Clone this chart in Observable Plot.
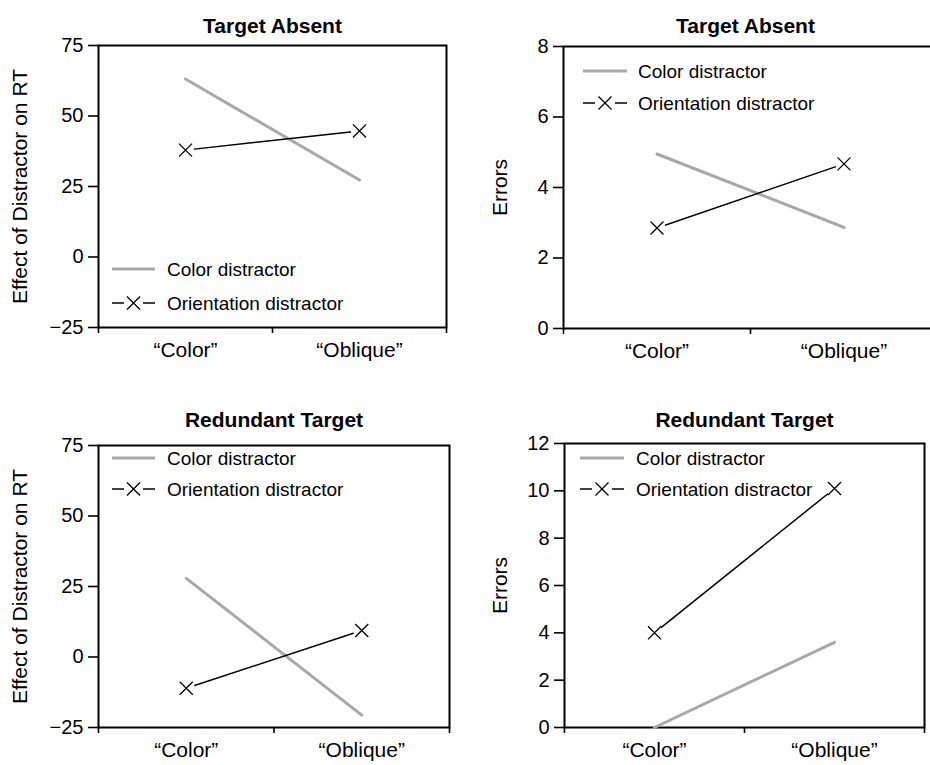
<!DOCTYPE html>
<html><head><meta charset="utf-8">
<script src="https://cdn.jsdelivr.net/npm/d3@7"></script>
<script src="https://cdn.jsdelivr.net/npm/@observablehq/plot@0.6"></script>
<style>
html,body{margin:0;padding:0;background:#fff;overflow:hidden;}
#wrap{position:relative;width:930px;height:765px;overflow:hidden;background:#fff;}
#wrap svg{position:absolute;}
</style></head><body><div id="wrap"></div>
<script>
// ---- data ----
const categories = ["\u201CColor\u201D", "\u201COblique\u201D"];
const seriesNames = ["Color distractor", "Orientation distractor"];
const titles = ["Target Absent", "Target Absent", "Redundant Target", "Redundant Target"];
const yLabels = ["Effect of Distractor on RT", "Errors", "Effect of Distractor on RT", "Errors"];

const absentRTColor = [63.1, 27.3];
const absentRTOrient = [37.9, 44.7];
const absentErrColor = [4.95, 2.87];
const absentErrOrient = [2.85, 4.67];
const redundantRTColor = [27.9, -20.6];
const redundantRTOrient = [-11.1, 9.4];
const redundantErrColor = [0.0, 3.6];
const redundantErrOrient = [4.0, 10.1];

const rtTicks = [-25, 0, 25, 50, 75];
const absentErrTicks = [0, 2, 4, 6, 8];
const redundantErrTicks = [0, 2, 4, 6, 8, 10, 12];

const GRAY = "#a8a8a8";
const FONT = "'Liberation Sans', Arial, Helvetica, sans-serif";

function drawPanel(cfg) {
  const color = categories.map((c, i) => ({x: i + 0.5, y: cfg.color[i]}));
  const orient = categories.map((c, i) => ({x: i + 0.5, y: cfg.orient[i]}));
  const plot = Plot.plot({
    width: cfg.width, height: cfg.height,
    marginTop: cfg.m[0], marginRight: cfg.m[1], marginBottom: cfg.m[2], marginLeft: cfg.m[3],
    style: {fontFamily: FONT, fontSize: "20px", color: "black", background: "transparent", overflow: "visible"},
    x: {type: "linear", domain: [0, categories.length], label: null},
    y: {domain: [cfg.yTicks[0], cfg.yTicks[cfg.yTicks.length - 1]], label: null},
    marks: [
      Plot.axisX({ticks: d3.range(categories.length + 1), tickSize: 6, tickFormat: () => "", label: null, strokeWidth: 1.6}),
      Plot.axisX({ticks: categories.map((c, i) => i + 0.5), tickSize: 0, tickPadding: 15,
                  tickFormat: d => categories[Math.floor(d)], label: null, fontSize: 21}),
      Plot.axisY({ticks: cfg.yTicks, tickSize: 10, tickPadding: 5, label: null, fontSize: 20, strokeWidth: 1.6}),
      Plot.frame({strokeWidth: 2}),
      Plot.line(color, {x: "x", y: "y", stroke: GRAY, strokeWidth: 3}),
      Plot.line(orient, {x: "x", y: "y", stroke: "black", strokeWidth: 1.5}),
      Plot.dot(orient, {x: "x", y: "y", r: 8.5, fill: "white", stroke: null}),
      Plot.dot(orient, {x: "x", y: "y", r: 6, symbol: "times", stroke: "black", strokeWidth: 1.3}),
      Plot.text([cfg.title], {text: d => d, frameAnchor: "top", dy: cfg.titleDy, dx: cfg.titleDx,
                              textAnchor: "middle", fontWeight: "bold", fontSize: 21}),
      Plot.text([cfg.yLabel], {text: d => d, frameAnchor: "left", dx: cfg.labelDx, rotate: -90,
                               textAnchor: "middle", lineAnchor: "middle", fontSize: 21})
    ]
  });
  plot.style.left = cfg.left + "px";
  plot.style.top = cfg.top + "px";

  // legend (drawn inside the panel)
  const L = cfg.legend;
  const g = d3.select(plot).append("g").attr("font-family", FONT).attr("font-size", 19)
    .attr("text-anchor", "start");
  g.append("line").attr("x1", L.x0).attr("x2", L.x1).attr("y1", L.y1).attr("y2", L.y1)
    .attr("stroke", GRAY).attr("stroke-width", 3);
  g.append("text").attr("x", L.tx).attr("y", L.y1).attr("dy", "0.36em").text(seriesNames[0]);
  const xm = (L.x0 + L.x1) / 2;
  g.append("line").attr("x1", L.x0).attr("x2", L.x0 + 12).attr("y1", L.y2).attr("y2", L.y2)
    .attr("stroke", "black").attr("stroke-width", 1.5);
  g.append("line").attr("x1", L.x1 - 12).attr("x2", L.x1).attr("y1", L.y2).attr("y2", L.y2)
    .attr("stroke", "black").attr("stroke-width", 1.5);
  g.append("path").attr("d", `M${xm - 6.5},${L.y2 - 6.5}L${xm + 6.5},${L.y2 + 6.5}M${xm + 6.5},${L.y2 - 6.5}L${xm - 6.5},${L.y2 + 6.5}`)
    .attr("stroke", "black").attr("stroke-width", 1.3).attr("fill", "none");
  g.append("text").attr("x", L.tx).attr("y", L.y2).attr("dy", "0.36em").text(seriesNames[1]);

  document.getElementById("wrap").appendChild(plot);
}

drawPanel({left: 0, top: 0, width: 465, height: 382, m: [45, 19, 55, 98],
  yTicks: rtTicks, color: absentRTColor, orient: absentRTOrient,
  title: titles[0], yLabel: yLabels[0], titleDy: -27, titleDx: 0, labelDx: -78,
  legend: {x0: 112, x1: 155, tx: 167, y1: 269, y2: 303}});

drawPanel({left: 465, top: 0, width: 480, height: 382, m: [46, 8, 54, 98],
  yTicks: absentErrTicks, color: absentErrColor, orient: absentErrOrient,
  title: titles[1], yLabel: yLabels[1], titleDy: -28, titleDx: -5, labelDx: -63,
  legend: {x0: 118, x1: 162, tx: 173, y1: 71, y2: 103}});

drawPanel({left: 0, top: 382, width: 465, height: 383, m: [63, 16, 38, 98],
  yTicks: rtTicks, color: redundantRTColor, orient: redundantRTOrient,
  title: titles[2], yLabel: yLabels[2], titleDy: -33, titleDx: 0, labelDx: -78,
  legend: {x0: 112, x1: 155, tx: 167, y1: 76, y2: 107}});

drawPanel({left: 465, top: 382, width: 465, height: 383, m: [61, 6, 38, 99],
  yTicks: redundantErrTicks, color: redundantErrColor, orient: redundantErrOrient,
  title: titles[3], yLabel: yLabels[3], titleDy: -31, titleDx: 0, labelDx: -64,
  legend: {x0: 115, x1: 159, tx: 171, y1: 76, y2: 107}});
</script></body></html>
